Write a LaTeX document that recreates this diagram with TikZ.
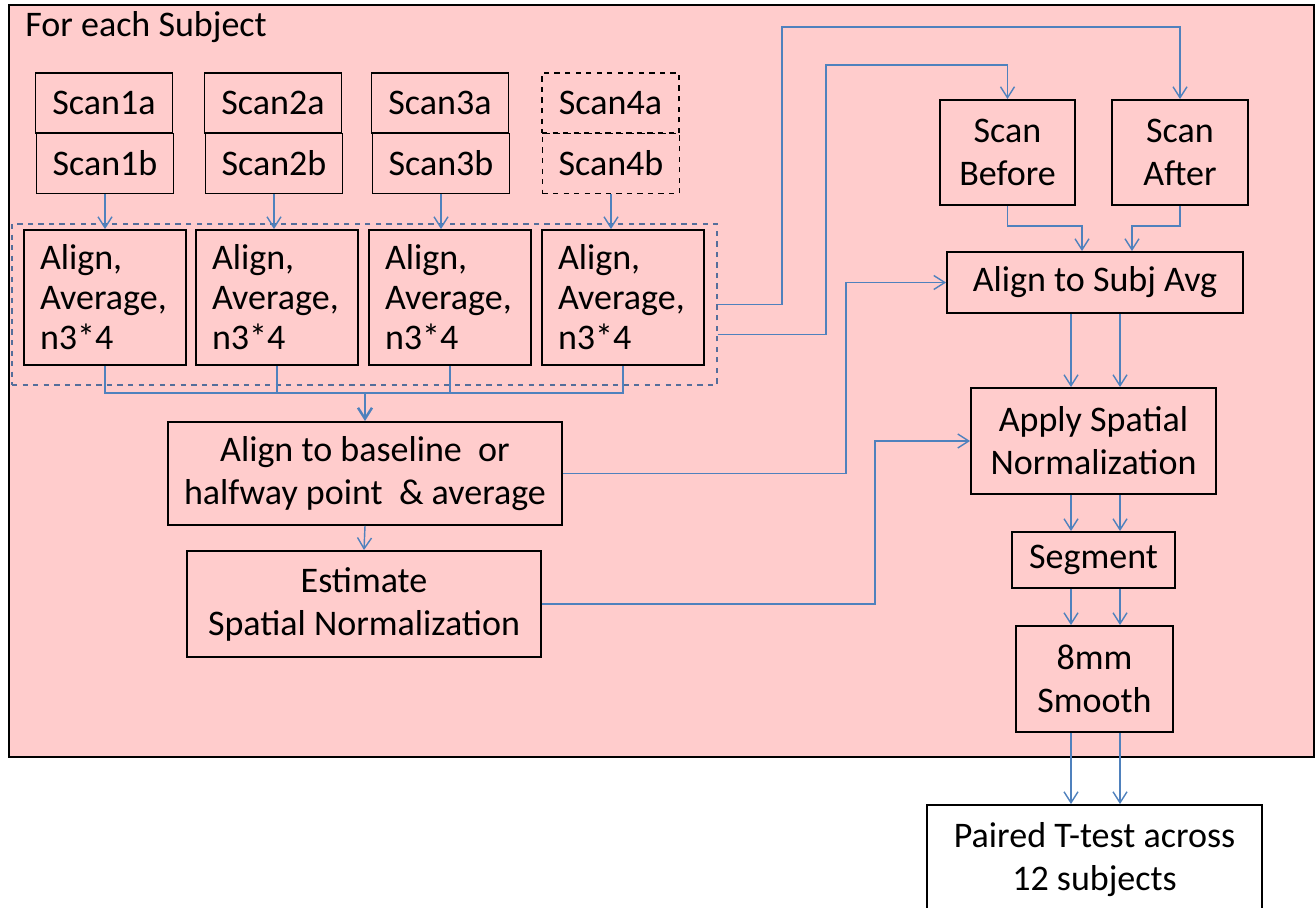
\documentclass[tikz,border=0pt]{standalone}
\usepackage{fontspec}
\setmainfont{Carlito}
\usetikzlibrary{arrows.meta,calc}
\definecolor{subjpink}{RGB}{255,204,204}
\definecolor{linkblue}{RGB}{79,129,189}
\definecolor{grpblue}{RGB}{85,110,155}
\tikzset{
  box/.style={draw=black, line width=1.1pt, align=center, inner sep=0pt},
  scanbox/.style={box, minimum width=2.74cm, minimum height=1.2cm},
  alignbox/.style={box, minimum height=2.7cm, text width=2.6cm, inner xsep=0.32cm,
    align=left, font=\fontsize{20.5}{22.8}\selectfont},
  link/.style={draw=linkblue, line width=0.8pt},
  arr/.style={link, -{Straight Barb[length=2.2mm,width=2.8mm]}}
}
\begin{document}
\begin{tikzpicture}[x=0.02cm, y=-0.02cm, font=\fontsize{20.5}{24.5}\selectfont]
    \useasboundingbox (0,0) rectangle (1315,907);
    % Subject panel
    \draw[fill=subjpink, line width=1.1pt] (9,5) rectangle (1314,757);
    \node[anchor=base west, inner sep=0pt] (title) at (25,36) {For each Subject};
    % Scan pairs
    \node[scanbox] (s1a) at (104,103) {Scan1a};
    \node[scanbox] (s1b) at (105,163.5) {Scan1b};
    \node[scanbox] (s2a) at (273,103) {Scan2a};
    \node[scanbox] (s2b) at (274,163.5) {Scan2b};
    \node[scanbox] (s3a) at (440,103) {Scan3a};
    \node[scanbox] (s3b) at (441,163.5) {Scan3b};
    \node[scanbox, dashed] (s4a) at (610.5,103) {Scan4a};
    \node[scanbox, dashed] (s4b) at (611,163.5) {Scan4b};
    % Align and average group
    \node[draw=grpblue, dashed, line width=0.8pt, minimum width=14.1cm, minimum height=3.22cm] (grp) at (364.5,304.5) {};
    \node[alignbox] (al1) at (105,297.5) {Align,\\Average,\\n3*4};
    \node[alignbox] (al2) at (277,297.5) {Align,\\Average,\\n3*4};
    \node[alignbox] (al3) at (450,297.5) {Align,\\Average,\\n3*4};
    \node[alignbox] (al4) at (623,297.5) {Align,\\Average,\\n3*4};
    \draw[arr] (s1b.south) -- (s1b.south |- al1.north);
    \draw[arr] (s2b.south) -- (s2b.south |- al2.north);
    \draw[arr] (s3b.south) -- (s3b.south |- al3.north);
    \draw[arr] (s4b.south) -- (s4b.south |- al4.north);
    % Subject average
    \node[box, minimum width=7.88cm, minimum height=2.06cm] (base) at (365,473.5) {Align to baseline ~or\\halfway point ~\& average};
    \node[box, minimum width=7.08cm, minimum height=2.12cm] (est) at (364,604) {Estimate\\Spatial Normalization};
    \coordinate (bus) at (365,393);
    \draw[link] (al1.south) |- (bus) -| (al4.south);
    \draw[link] (al2.south) -- (al2.south |- bus);
    \draw[link] (al3.south) -- (al3.south |- bus);
    \draw[arr, line width=1.4pt] (bus) -- (base.north);
    \draw[arr] (base.south) -- (est.north);
    % Before / after branch
    \node[box, minimum width=2.7cm, minimum height=2.1cm] (before) at (1007.5,152.5) {Scan\\Before};
    \node[box, minimum width=2.72cm, minimum height=2.1cm] (after) at (1180,152.5) {Scan\\After};
    \node[box, minimum width=5.92cm, minimum height=1.22cm] (subj) at (1095,282.5) {Align to Subj Avg};
    \node[box, minimum width=4.9cm, minimum height=2.12cm] (apply) at (1093.5,441) {Apply Spatial\\Normalization};
    \node[box, minimum width=3.26cm, minimum height=1.12cm] (seg) at (1093.5,560) {Segment};
    \node[box, minimum width=3.14cm, minimum height=2.12cm] (smooth) at (1094.5,679) {8mm\\Smooth};
    \node[box, fill=white, minimum width=6.7cm, minimum height=2.2cm] (ttest) at (1094.5,860) {Paired T-test across\\12 subjects};
    \coordinate (ra) at (782,27);
    \coordinate (rb) at (826,65);
    \draw[arr] (grp.east) -| (ra) -| (after.north);
    \draw[arr] ([yshift=-0.6cm]grp.east) -| (rb) -| (before.north);
    \draw[arr] (before.south) -- ++(0,20) -| ([xshift=-0.26cm]subj.north);
    \draw[arr] (after.south) -- ++(0,20) -| ([xshift=0.74cm]subj.north);
    \draw[arr] (base.east) -| ($(subj.west)+(-100,0)$) -- (subj.west);
    \draw[arr] (est.east) -| ($(apply.west)+(-95,0)$) -- (apply.west);
    % Pipeline pairs
    \coordinate (cl) at (1071,0);
    \coordinate (cr) at (1120,0);
    \draw[arr] (subj.south -| cl) -- (apply.north -| cl);
    \draw[arr] (subj.south -| cr) -- (apply.north -| cr);
    \draw[arr] (apply.south -| cl) -- (seg.north -| cl);
    \draw[arr] (apply.south -| cr) -- (seg.north -| cr);
    \draw[arr] (seg.south -| cl) -- (smooth.north -| cl);
    \draw[arr] (seg.south -| cr) -- (smooth.north -| cr);
    \draw[arr] (smooth.south -| cl) -- (ttest.north -| cl);
    \draw[arr] (smooth.south -| cr) -- (ttest.north -| cr);
\end{tikzpicture}
\end{document}
